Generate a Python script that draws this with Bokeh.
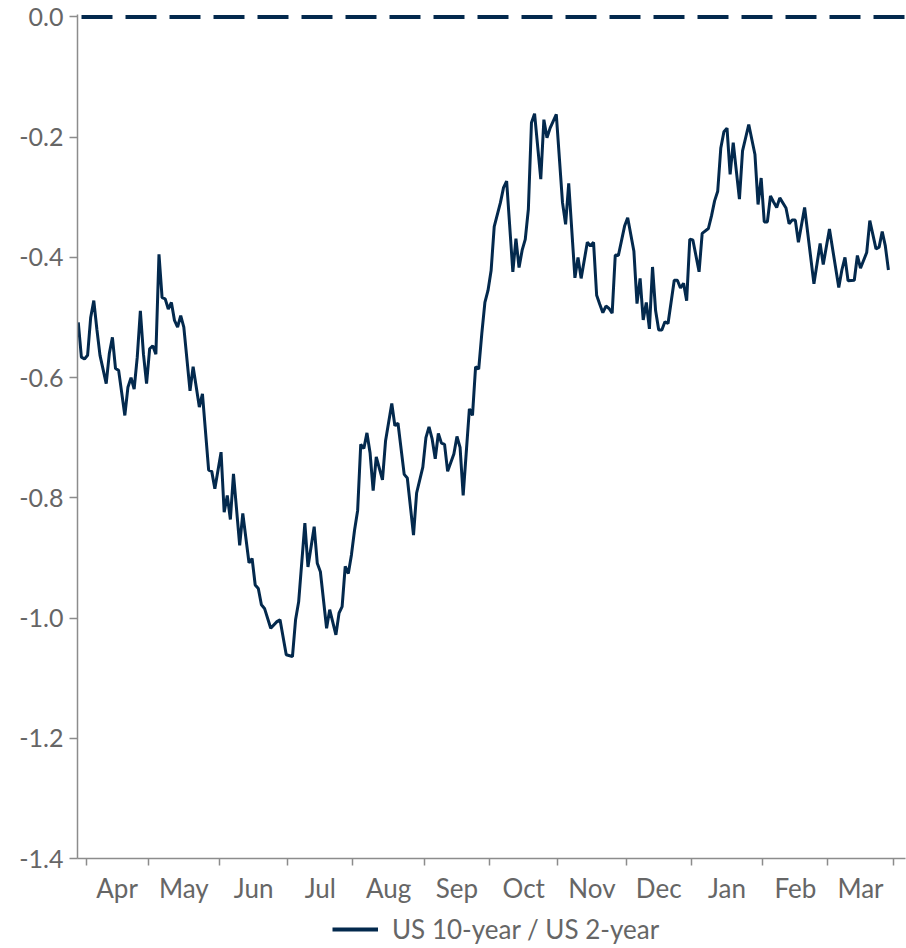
from bokeh.plotting import figure
from bokeh.layouts import column
from bokeh.models import (Range1d, FixedTicker, PrintfTickFormatter, Span,
                          Legend, LegendItem)
from bokeh.embed import file_html
from bokeh.resources import INLINE

# ---- data -------------------------------------------------------------
# business-day index (0 = 29 Mar 2023) and spread value at each point
day_index = [
    0, 1, 2, 3, 4, 5, 6, 7, 9, 10, 11, 12, 13, 15, 16, 17, 18, 19, 20, 21,
    22, 23, 24, 25, 26, 27, 28, 29, 30, 31, 32, 33, 34, 36, 37, 39, 40, 42,
    43, 44, 46, 47, 48, 49, 50, 52, 53, 55, 56, 57, 58, 59, 60, 62, 64, 65,
    67, 69, 70, 71, 73, 74, 76, 77, 78, 80, 81, 83, 84, 85, 86, 87, 88, 89,
    90, 91, 92, 93, 94, 95, 96, 98, 99, 101, 102, 103, 105, 106, 108, 109,
    111, 112, 113, 114, 115, 116, 117, 118, 119, 121, 122, 123, 124, 126,
    127, 128, 129, 130, 131, 132, 133, 134, 136, 137, 138, 140, 141, 142,
    143, 144, 145, 146, 147, 149, 150, 151, 152, 154, 156, 157, 158, 160,
    161, 162, 164, 165, 166, 167, 168, 169, 170, 171, 172, 173, 174, 176,
    177, 179, 180, 181, 182, 183, 184, 185, 186, 187, 188, 189, 190, 192,
    193, 194, 195, 196, 197, 198, 200, 201, 203, 204, 205, 206, 207, 208,
    209, 210, 211, 212, 213, 214, 215, 216, 218, 219, 220, 221, 222, 223,
    224, 225, 226, 228, 229, 230, 231, 232, 234, 237, 239, 240, 242, 245,
    246, 247, 248, 250, 251, 252, 254, 255, 257, 258, 259, 260, 261,
]
spread = [
    -0.508, -0.566, -0.569, -0.563, -0.500, -0.472, -0.520, -0.563, -0.610,
    -0.560, -0.533, -0.585, -0.588, -0.663, -0.616, -0.600, -0.619, -0.566,
    -0.489, -0.561, -0.610, -0.552, -0.547, -0.561, -0.395, -0.467, -0.469,
    -0.486, -0.475, -0.505, -0.516, -0.497, -0.516, -0.622, -0.582, -0.649,
    -0.627, -0.754, -0.756, -0.785, -0.724, -0.824, -0.796, -0.836, -0.760,
    -0.879, -0.826, -0.908, -0.901, -0.945, -0.951, -0.978, -0.984, -1.017,
    -1.006, -1.003, -1.061, -1.064, -1.003, -0.973, -0.842, -0.915, -0.848,
    -0.909, -0.923, -1.017, -0.986, -1.028, -0.992, -0.981, -0.914, -0.926,
    -0.895, -0.854, -0.821, -0.711, -0.718, -0.692, -0.725, -0.788, -0.732,
    -0.770, -0.705, -0.643, -0.680, -0.676, -0.761, -0.767, -0.862, -0.792,
    -0.749, -0.700, -0.682, -0.702, -0.735, -0.693, -0.709, -0.711, -0.756,
    -0.727, -0.698, -0.716, -0.796, -0.652, -0.663, -0.582, -0.586, -0.527,
    -0.475, -0.455, -0.422, -0.349, -0.309, -0.284, -0.273, -0.424, -0.369,
    -0.417, -0.388, -0.370, -0.320, -0.176, -0.161, -0.270, -0.171, -0.201,
    -0.185, -0.162, -0.309, -0.345, -0.277, -0.434, -0.400, -0.435, -0.375,
    -0.381, -0.375, -0.463, -0.478, -0.492, -0.481, -0.485, -0.493, -0.396,
    -0.397, -0.348, -0.334, -0.390, -0.477, -0.435, -0.504, -0.475, -0.519,
    -0.416, -0.489, -0.521, -0.521, -0.507, -0.510, -0.438, -0.438, -0.451,
    -0.443, -0.472, -0.370, -0.371, -0.424, -0.360, -0.352, -0.331, -0.306,
    -0.290, -0.218, -0.191, -0.185, -0.262, -0.209, -0.256, -0.303, -0.223,
    -0.201, -0.179, -0.229, -0.312, -0.268, -0.341, -0.341, -0.298, -0.308,
    -0.317, -0.301, -0.318, -0.344, -0.338, -0.338, -0.375, -0.317, -0.444,
    -0.377, -0.412, -0.353, -0.450, -0.421, -0.400, -0.439, -0.438, -0.397,
    -0.418, -0.392, -0.339, -0.386, -0.383, -0.357, -0.381, -0.421,
]
months = ["Apr", "May", "Jun", "Jul", "Aug", "Sep", "Oct", "Nov", "Dec",
          "Jan", "Feb", "Mar"]
business_days = [20, 23, 22, 21, 23, 21, 22, 22, 21, 23, 21, 21]
first_month_start = 2.5      # index of the Apr boundary
y_ticks = [0.0, -0.2, -0.4, -0.6, -0.8, -1.0, -1.2, -1.4]
series_name = "US 10-year / US 2-year"

# ---- derived tick positions ---------------------------------------------
bounds = [first_month_start]
for n in business_days:
    bounds.append(bounds[-1] + n)
mids = [(bounds[i] + bounds[i + 1]) / 2 for i in range(len(months))]

NAVY = "#03294d"
GREY_TXT = "#666666"
AXIS = "#8c8c8c"
FONT = "Lato"

p = figure(width=906, height=906, output_backend="svg",
           toolbar_location=None,
           x_range=Range1d(-0.25, 266.5), y_range=Range1d(-1.4, 0.004),
           min_border_left=77, min_border_top=14, min_border_right=1,
           min_border_bottom=0)
p.outline_line_color = None
p.grid.visible = False

line = p.line(day_index, spread, line_color=NAVY, line_width=3)

zero = Span(location=0, dimension="width", line_color=NAVY, line_width=4,
            line_dash="31 13", line_dash_offset=-4)
p.add_layout(zero)

# y axis
ya = p.yaxis[0]
ya.ticker = FixedTicker(ticks=y_ticks, minor_ticks=[])
ya.formatter = PrintfTickFormatter(format="%.1f")
ya.axis_line_color = AXIS
ya.axis_line_width = 1.5
ya.major_tick_line_color = AXIS
ya.major_tick_line_width = 1.5
ya.major_tick_out = 8
ya.major_tick_in = 0
ya.minor_tick_line_color = None
ya.major_label_standoff = 6
ya.major_label_text_font = FONT
ya.major_label_text_font_size = "25px"
ya.major_label_text_color = GREY_TXT

# x axis: labels at month centres, minor ticks at month boundaries
xa = p.xaxis[0]
xa.ticker = FixedTicker(ticks=mids, minor_ticks=bounds)
xa.major_label_overrides = {m: lab for m, lab in zip(mids, months)}
xa.axis_line_color = AXIS
xa.axis_line_width = 1.5
xa.major_tick_line_color = None
xa.minor_tick_line_color = AXIS
xa.minor_tick_line_width = 1.5
xa.minor_tick_out = 7
xa.minor_tick_in = 0
xa.major_tick_out = 7
xa.major_tick_in = 0
xa.major_label_standoff = 6
xa.major_label_text_font = FONT
xa.major_label_text_font_size = "26px"
xa.major_label_text_color = GREY_TXT

# ---- legend strip below the chart ---------------------------------------
lg = figure(width=906, height=42, output_backend="svg", toolbar_location=None,
            x_range=Range1d(0, 1), y_range=Range1d(0, 1),
            x_axis_location=None, y_axis_location=None, min_border=0)
lg.grid.visible = False
lg.outline_line_color = None
# same series; it lies outside this strip's range, only its legend key shows
key = lg.line(day_index, spread, line_color=NAVY, line_width=4)
legend = Legend(items=[LegendItem(label=series_name, renderers=[key])],
                location=(255, 3), orientation="horizontal",
                border_line_color=None, background_fill_alpha=0,
                label_text_font=FONT, label_text_font_size="26px",
                label_text_color=GREY_TXT, glyph_width=46, glyph_height=20,
                label_height=20, label_standoff=14, padding=0, margin=0)
lg.add_layout(legend, "center")

layout = column(p, lg, spacing=0)
open("out.html", "w").write(file_html(layout, INLINE))
